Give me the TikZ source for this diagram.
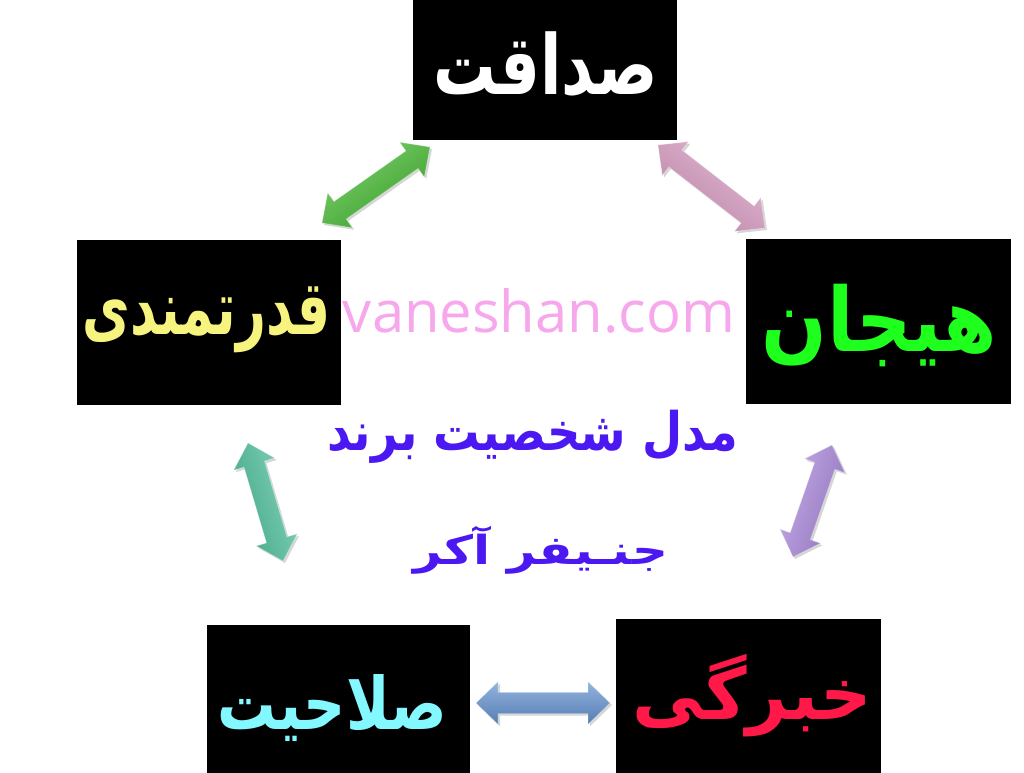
\documentclass[tikz,border=0pt]{standalone}
\usepackage{fontspec}
\usepackage{graphicx}
\usetikzlibrary{calc}
\TeXXeTstate=1
\newfontfamily\arabicfont[Script=Arabic]{DejaVu Sans}
\newfontfamily\latinsans{Open Sans}
\definecolor{txtwhite}{HTML}{FFFFFF}
\definecolor{txtyellow}{HTML}{F6F47E}
\definecolor{txtgreen}{HTML}{1EFF1E}
\definecolor{txtred}{HTML}{FF1848}
\definecolor{txtcyan}{HTML}{84F8FF}
\definecolor{txtpink}{HTML}{F7A8EC}
\definecolor{txtblue}{HTML}{4B18F2}
\definecolor{argreen}{HTML}{44BA30}
\definecolor{arpink}{HTML}{D99CC2}
\definecolor{arteal}{HTML}{4EC29E}
\definecolor{arpurple}{HTML}{AA88DC}
\definecolor{arblue}{HTML}{6593D2}
\newcommand\fatext[3]{\resizebox*{#1}{#2}{\arabicfont\bfseries #3}}
\def\ahl{16.5pt}
\def\ahw{16pt}
\def\asw{8pt}
\newcommand\arrowpath[2]{%
 (#1) -- ($(#1)!\ahl!(#2)!\ahw!90:(#2)$) -- ($(#1)!\ahl!(#2)!\asw!90:(#2)$)
 -- ($(#2)!\ahl!(#1)!\asw!-90:(#1)$) -- ($(#2)!\ahl!(#1)!\ahw!-90:(#1)$) -- (#2)
 -- ($(#2)!\ahl!(#1)!\ahw!90:(#1)$) -- ($(#2)!\ahl!(#1)!\asw!90:(#1)$)
 -- ($(#1)!\ahl!(#2)!\asw!-90:(#2)$) -- ($(#1)!\ahl!(#2)!\ahw!-90:(#2)$) -- cycle}
\newcommand\blockarrow[4]{%
 \path[arrowshadow] \arrowpath{#1}{#2};
 \path[top color=#3!70!white, middle color=#3, bottom color=#3!85!black,
   shading angle=#4] \arrowpath{#1}{#2};
 \path[draw=white, opacity=0.3, line width=0.6pt] \arrowpath{#1}{#2};}
\tikzset{
  box/.style={fill=black, draw=none, inner sep=0pt},
  lbl/.style={inner sep=0pt},
  arrowshadow/.style={fill=black, opacity=0.16,
    transform canvas={xshift=1.5pt, yshift=-1.5pt}},
}
\begin{document}
\begin{tikzpicture}[x=0.75pt,y=-0.75pt]
\useasboundingbox[fill=white] (0,0) rectangle (1024,773);
% boxes
\node[box, minimum width=198pt, minimum height=105pt] (sadaghat) at (545,70) {};
\node[box, minimum width=198pt, minimum height=123.75pt] (ghodrat) at (209,322.5) {};
\node[box, minimum width=198.75pt, minimum height=123.75pt] (hayajan) at (878.5,321.5) {};
\node[box, minimum width=198.75pt, minimum height=115.5pt] (khebregi) at (748.5,696) {};
\node[box, minimum width=197.25pt, minimum height=111pt] (salahiat) at (338.5,699) {};
% box labels
\node[lbl, text=txtwhite] (sadaghatT) at (545.5,64.5)
  {\fatext{168.75pt}{48.75pt}{\beginR صداقت\endR}};
\node[lbl, text=txtyellow] (ghodratT) at (206.5,320)
  {\fatext{185.25pt}{49.5pt}{\beginR قدرتمندی\endR}};
\node[lbl, text=txtgreen] (hayajanT) at (879.5,326)
  {\fatext{176.25pt}{62pt}{\beginR هیجان\endR}};
\node[lbl, text=txtred] (khebregiT) at (752.5,695.5)
  {\fatext{179.25pt}{62pt}{\beginR خبرگی\endR}};
\node[lbl, text=txtcyan] (salahiatT) at (332.5,708.5)
  {\fatext{171.75pt}{50.25pt}{\beginR صلاحیت\endR}};
% center texts
\node[lbl, anchor=base, text=txtpink] (site) at (539,333)
  {\resizebox{294pt}{!}{\latinsans vaneshan.com}};
\node[lbl, text=txtblue] (title1) at (532.5,436.5)
  {\fatext{308pt}{40pt}{\beginR مدل شخصیت برند\endR}};
\node[lbl, text=txtblue] (title2) at (540.5,550)
  {\fatext{191pt}{36pt}{\beginR جنـیفر آکر\endR}};
% arrow ends
\coordinate (g1) at (430,147); \coordinate (g2) at (322,223);
\coordinate (p1) at (658,145); \coordinate (p2) at (765,228);
\coordinate (t1) at (248,443); \coordinate (t2) at (283,561);
\coordinate (v1) at (832,445); \coordinate (v2) at (793,557);
\coordinate (b1) at (476,703); \coordinate (b2) at (610,703);
\blockarrow{g1}{g2}{argreen}{35}
\blockarrow{p1}{p2}{arpink}{-38}
\blockarrow{t1}{t2}{arteal}{-73}
\blockarrow{v1}{v2}{arpurple}{71}
\blockarrow{b1}{b2}{arblue}{0}
\end{tikzpicture}
\end{document}
